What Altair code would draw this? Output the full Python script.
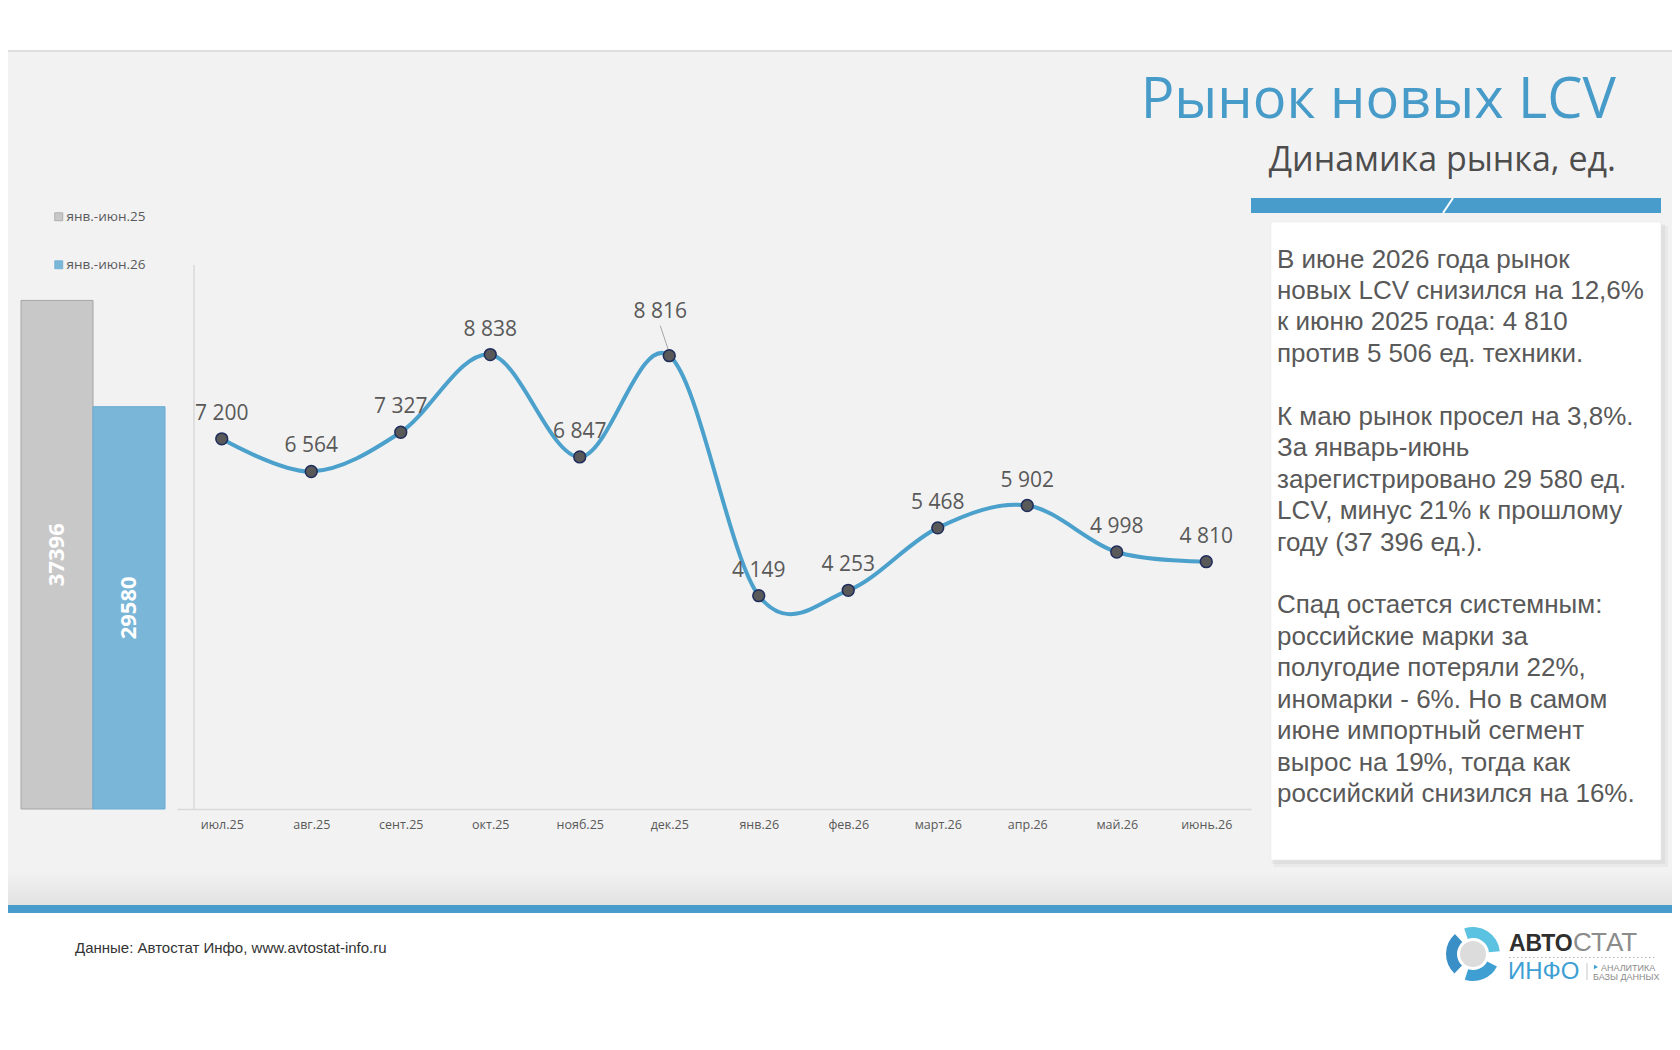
import altair as alt
import pandas as pd

# ---------------- data ----------------
months = ["июл.25", "авг.25", "сент.25", "окт.25", "нояб.25", "дек.25",
          "янв.26", "фев.26", "март.26", "апр.26", "май.26", "июнь.26"]
sales = [7200, 6564, 7327, 8838, 6847, 8816, 4149, 4253, 5468, 5902, 4998, 4810]

periods = ["янв.-июн.25", "янв.-июн.26"]
totals = [37396, 29580]

title_text = "Рынок новых LCV"
subtitle_text = "Динамика рынка, ед."
paragraph_1 = [
    "В июне 2026 года рынок",
    "новых LCV снизился на 12,6%",
    "к июню 2025 года: 4 810",
    "против 5 506 ед. техники.",
]
paragraph_2 = [
    "К маю рынок просел на 3,8%.",
    "За январь-июнь",
    "зарегистрировано 29 580 ед.",
    "LCV, минус 21% к прошлому",
    "году (37 396 ед.).",
]
paragraph_3 = [
    "Спад остается системным:",
    "российские марки за",
    "полугодие потеряли 22%,",
    "иномарки - 6%. Но в самом",
    "июне импортный сегмент",
    "вырос на 19%, тогда как",
    "российский снизился на 16%.",
]
source_text = "Данные: Автостат Инфо, www.avtostat-info.ru"

# ---------------- layout helpers ----------------
W = 1664
OX, OY = 8, 8
AXIS_Y = 809                 # page y of the line chart's baseline
H = AXIS_Y - OY              # plot height ends at the axis line
PAD_BOTTOM = 1020 - H        # footer drawn inside bottom padding


def px(x):
    return max(x - OX, 0)


def py(y):
    return y - OY


one = pd.DataFrame({"k": [0]})
base = alt.Chart(one)


def rect(x0, x1, y0, y1, **kw):
    return base.mark_rect(**kw).encode(
        x=alt.value(px(x0)), x2=alt.value(px(x1)),
        y=alt.value(py(y0)), y2=alt.value(py(y1)))


def rule(x0, y0, x1, y1, **kw):
    return base.mark_rule(**kw).encode(
        x=alt.value(px(x0)), x2=alt.value(px(x1)),
        y=alt.value(py(y0)), y2=alt.value(py(y1)))


def text(x, y, t, **kw):
    return base.mark_text(**kw).encode(
        x=alt.value(px(x)), y=alt.value(py(y)), text=alt.value(t))


GRAY_TXT = "#595959"
BLUE = "#479ccb"
LABEL_FONT = "Open Sans"
LH = 31.45

# ---------------- background ----------------
bg = [
    rect(2, 1680, 50, 905, color="#f2f2f2"),
    rect(2, 1680, 50, 52, color="#dedede"),
    rect(2, 1680, 872, 905, fill=alt.LinearGradient(
        gradient="linear", x1=0, x2=0, y1=0, y2=1,
        stops=[alt.GradientStop(color="#f2f2f2", offset=0),
               alt.GradientStop(color="#e2e2e2", offset=1)])),
    rect(2, 1680, 905, 913, color=BLUE),
    rect(1251, 1661, 198, 213, color=BLUE),
    rule(1443, 213, 1453, 198, color="white", strokeWidth=2),
    rect(1274, 1668, 226, 867, color="#000000", opacity=0.035),
    rect(1272, 1665, 224, 864, color="#000000", opacity=0.04),
    rect(1271, 1661, 222, 860, color="white", stroke="#e6e6e6", strokeWidth=0.5),
]

# ---------------- titles & commentary ----------------
para_style = dict(font="Liberation Sans", fontSize=26, color=GRAY_TXT,
                  align="left", baseline="middle", lineHeight=LH)
texts = [
    text(1616, 118, title_text, font=LABEL_FONT, fontSize=56, color="#479bc9",
         align="right", baseline="alphabetic"),
    text(1616, 171, subtitle_text, font=LABEL_FONT, fontSize=34, color="#4d4d4d",
         align="right", baseline="alphabetic"),
    text(1277, 259.5, paragraph_1, **para_style),
    text(1277, 259.5 + 5 * LH, paragraph_2, **para_style),
    text(1277, 259.5 + 11 * LH, paragraph_3, **para_style),
    text(75, 948, source_text, font="Liberation Sans", fontSize=15,
         color="#333333", align="left", baseline="middle"),
]

# ---------------- bar chart (Jan-Jun totals) ----------------
bars_df = pd.DataFrame({"period": periods, "total": totals})
xb = alt.X("period:N", sort=periods,
           scale=alt.Scale(type="band", domain=periods, range=[px(21), px(165)],
                           paddingInner=0, paddingOuter=0), axis=None)
yb_scale = alt.Scale(domain=[0, 40000], range=[py(809), py(265)], nice=False)

bar = alt.Chart(bars_df).mark_bar(strokeWidth=1).encode(
    x=xb,
    y=alt.Y("total:Q", scale=yb_scale, axis=None),
    color=alt.Color("period:N", sort=periods,
                    scale=alt.Scale(domain=periods, range=["#c9c8c9", "#7ab6d7"]),
                    legend=alt.Legend(title=None, orient="none", legendX=px(52),
                                      legendY=py(210), direction="vertical",
                                      symbolType="square", symbolSize=64,
                                      symbolStrokeWidth=0.8,
                                      symbolStrokeColor="#a5a5a5",
                                      labelFont=LABEL_FONT, labelFontSize=13.5,
                                      labelColor=GRAY_TXT, rowPadding=33,
                                      padding=0, labelOffset=1)),
    stroke=alt.Stroke("period:N", sort=periods,
                      scale=alt.Scale(domain=periods, range=["#a5a5a5", "#68acd3"]),
                      legend=None),
)
bar_lbl = alt.Chart(bars_df).transform_calculate(mid="datum.total / 2").mark_text(
    font=LABEL_FONT, fontSize=22, fontWeight="bold", color="white", angle=270,
    align="center", baseline="middle").encode(
    x=xb,
    y=alt.Y("mid:Q", scale=yb_scale, axis=None),
    text=alt.Text("total:Q", format="d"),
)
bar_layer = alt.layer(bar, bar_lbl)

# ---------------- line chart (monthly) ----------------
line_df = pd.DataFrame({"month": months, "sales": sales})
xl = alt.X("month:O", sort=months,
           scale=alt.Scale(type="point", domain=months, range=[px(177), px(1251)],
                           padding=0.5),
           axis=alt.Axis(orient="bottom", title=None, zindex=1,
                         ticks=False, grid=False, domainColor="#d9d9d9",
                         domainWidth=1.5, labelFont=LABEL_FONT, labelFontSize=12.5,
                         labelColor=GRAY_TXT, labelPadding=9, labelAngle=0))
x2l = alt.X2("month")
yl = alt.Y("sales:Q", scale=alt.Scale(domain=[0, 10580], range=[py(809), py(265)],
                                      nice=False), axis=None)
y2l = alt.Y2("sales")

yaxis_line = rule(194, 265, 194, 809, color="#d9d9d9", strokeWidth=1.5)

line = alt.Chart(line_df).mark_line(
    interpolate="cardinal", tension=0, color="#4ba1cc", strokeWidth=4).encode(x=xl, y=yl)
pts = alt.Chart(line_df).mark_point(
    filled=True, shape="circle", size=140, fill="#595959", stroke="#1f2d5c",
    strokeWidth=1.5, opacity=1).encode(x=xl, y=yl)
lbl_calc = "replace(format(datum.sales, ','), ',', ' ')"
lbls = alt.Chart(line_df).transform_filter(
    "datum.month != 'дек.25'").transform_calculate(lbl=lbl_calc).mark_text(
    font=LABEL_FONT, fontSize=21, color=GRAY_TXT, dy=-25, align="center",
    baseline="middle").encode(x=xl, y=yl, text="lbl:N")
lbl_dec = alt.Chart(line_df).transform_filter(
    "datum.month == 'дек.25'").transform_calculate(lbl=lbl_calc).mark_text(
    font=LABEL_FONT, fontSize=21, color=GRAY_TXT, dx=-9, dy=-44, align="center",
    baseline="middle").encode(x=xl, y=yl, text="lbl:N")
leader = alt.Chart(line_df).transform_filter("datum.month == 'дек.25'").mark_rule(
    color="#a6a6a6", strokeWidth=1, xOffset=-9, x2Offset=-1, yOffset=-30,
    y2Offset=-6).encode(x=xl, x2=x2l, y=yl, y2=y2l)

line_layer = alt.layer(line, leader, pts, lbls, lbl_dec)

# ---------------- logo ----------------
cx, cy = 1473, 954
logo = [
    base.mark_arc(radius=13, radius2=0, theta=0, theta2=6.2832, color="#dcdcdc").encode(
        x=alt.value(px(cx)), y=alt.value(py(cy))),
    base.mark_arc(radius=27, radius2=16, theta=5.95, theta2=7.75, color="#5cc2e2").encode(
        x=alt.value(px(cx)), y=alt.value(py(cy))),
    base.mark_arc(radius=27, radius2=16, theta=2.05, theta2=3.45, color="#3f9fd3").encode(
        x=alt.value(px(cx)), y=alt.value(py(cy))),
    base.mark_arc(radius=27, radius2=16, theta=3.9, theta2=5.55, color="#3b8fc7").encode(
        x=alt.value(px(cx)), y=alt.value(py(cy))),
    text(1509, 951, "АВТО", font="Liberation Sans", fontWeight="bold", fontSize=23,
         color="#2f2f2f", align="left", baseline="alphabetic"),
    text(1573, 951, "СТАТ", font="Liberation Sans", fontSize=26, color="#8c8c8c",
         align="left", baseline="alphabetic"),
    rule(1509, 957.5, 1654, 957.5, color="#b0b0b0", strokeWidth=1, strokeDash=[1.5, 2.5]),
    text(1508, 979, "ИНФО", font="Liberation Sans", fontSize=24, color="#3d9fd3",
         align="left", baseline="alphabetic"),
    rule(1587, 963, 1587, 980, color="#c8c8c8", strokeWidth=1),
    base.mark_point(shape="triangle-right", filled=True, size=22, color="#3d9fd3",
                    opacity=1).encode(x=alt.value(px(1596)), y=alt.value(py(967))),
    text(1601, 970.5, "АНАЛИТИКА", font="Liberation Sans", fontSize=9, color="#8c8c8c",
         align="left", baseline="alphabetic"),
    text(1593, 980, "БАЗЫ ДАННЫХ", font="Liberation Sans", fontSize=9, color="#8c8c8c",
         align="left", baseline="alphabetic"),
]

chart = alt.layer(*bg, *texts, yaxis_line, bar_layer, line_layer, *logo).resolve_scale(
    x="independent", y="independent", color="independent", stroke="independent"
).properties(
    width=W, height=H,
    padding={"left": 0, "top": 0, "right": 0, "bottom": PAD_BOTTOM},
    autosize=alt.AutoSizeParams(type="none"),
    background="white",
).configure_view(stroke=None)

chart.save("out.html", embed_options={"renderer": "svg", "actions": False})
